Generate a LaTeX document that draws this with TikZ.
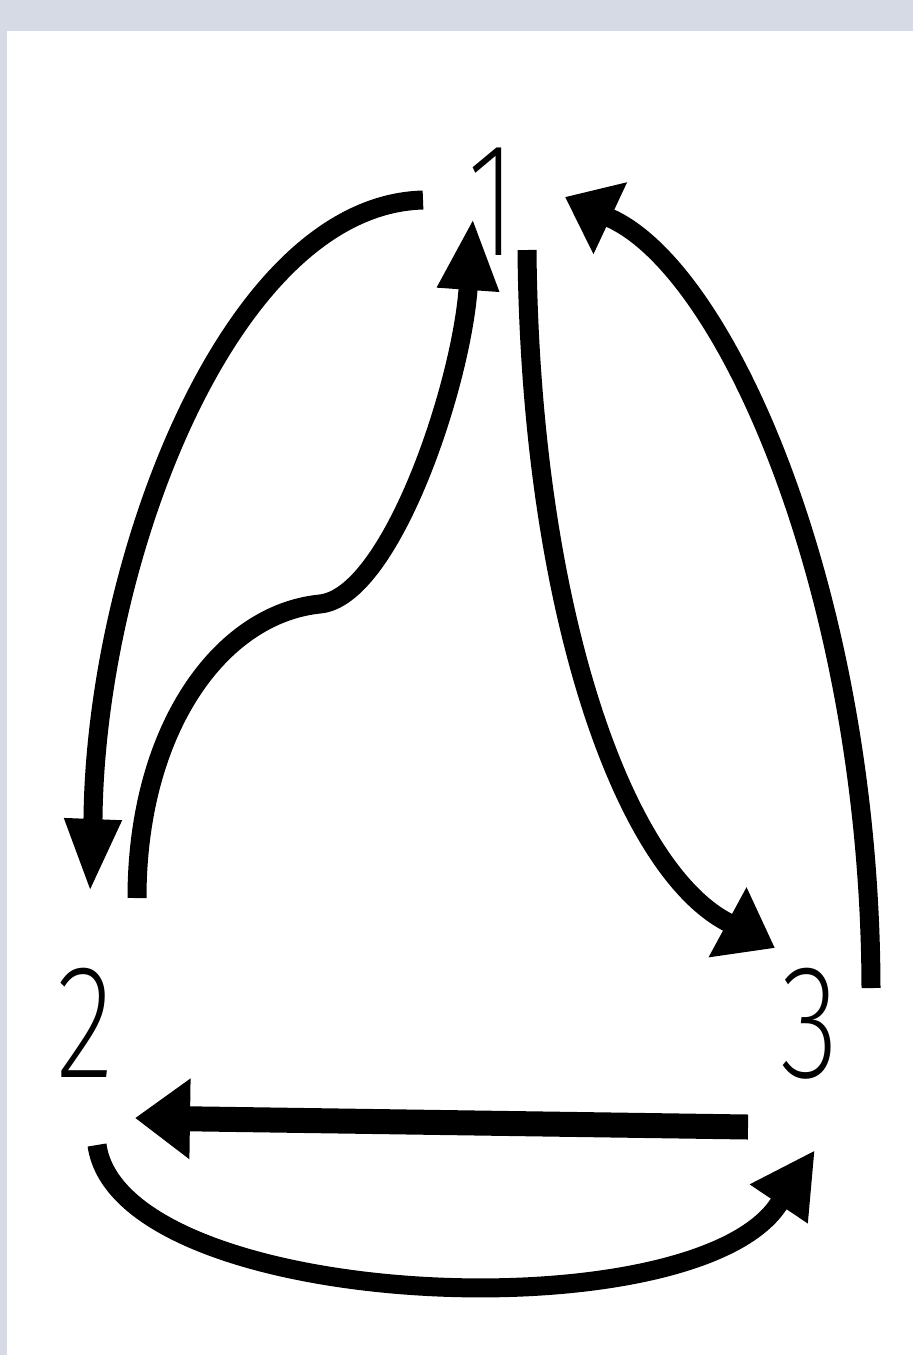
\documentclass[tikz,border=0pt]{standalone}
\usepackage{fontspec}
\usetikzlibrary{arrows.meta}
\newfontfamily\digfont{Fira Sans ExtraLight}
\definecolor{framegrey}{RGB}{214,218,228}
\begin{document}
\begin{tikzpicture}[x=0.5pt,y=-0.5pt,
  conn/.style={line width=9.5pt, line cap=butt, line join=round},
  thickconn/.style={line width=12.5pt, line cap=butt},
  lbl/.style={font=\digfont\fontsize{81}{81}\selectfont, inner sep=0pt, anchor=base},
  arrA/.style={-{Triangle[length=37pt,width=26pt]}},
  arrB/.style={-{Triangle[length=36pt,width=28.5pt]}},
  arrC/.style={-{Triangle[length=27pt,width=38pt]}},
  arrD/.style={-{Triangle[length=25pt,width=38pt]}},
  arrE/.style={-{Triangle[length=27.5pt,width=38.5pt]}},
  arrF/.style={-{Triangle[length=32.5pt,width=32.5pt]}}]
\useasboundingbox (0,0) rectangle (913,1355);
\fill[framegrey] (0,0) rectangle (913,1355);
\fill[white] (7,31) rectangle (913,1355);
% labels
\node[lbl] (n1) at (492,255) {\scalebox{0.75}[1]{1}};
\node[lbl] (n2) at (85,1077) {\scalebox{0.75}[1]{2}};
\node[lbl] (n3) at (810,1077) {\scalebox{0.75}[1]{3}};
% connector end points
\coordinate (n1a) at (423,200);
\coordinate (n2a) at (90,893);
\coordinate (n2b) at (137,898);
\coordinate (n1b) at (473,218);
\coordinate (n1c) at (527,250);
\coordinate (n3c) at (775,948);
\coordinate (n3d) at (871,988);
\coordinate (n1d) at (565,197);
\coordinate (n3e) at (748,1127);
\coordinate (n2e) at (135,1118);
\coordinate (n2f) at (97,1145);
\coordinate (n3f) at (815,1150);
% connectors
\draw[conn,arrA] (n1a) .. controls (230,205) and (96,560) .. (93,818) -- (n2a);
\draw[conn,arrB] (n2b) .. controls (137,730) and (220,614) .. (320,604)
                        .. controls (390,597) and (460,390) .. (468,290) -- (n1b);
\draw[conn,arrC] (n1c) .. controls (530,600) and (620,865) .. (727,922) -- (n3c);
\draw[conn,arrD] (n3d) .. controls (870,600) and (730,275) .. (612,219) -- (n1d);
\draw[thickconn,arrE] (n3e) -- (n2e);
\draw[conn,arrF] (n2f) .. controls (120,1310) and (690,1335) .. (778,1205) -- (n3f);
\end{tikzpicture}
\end{document}
